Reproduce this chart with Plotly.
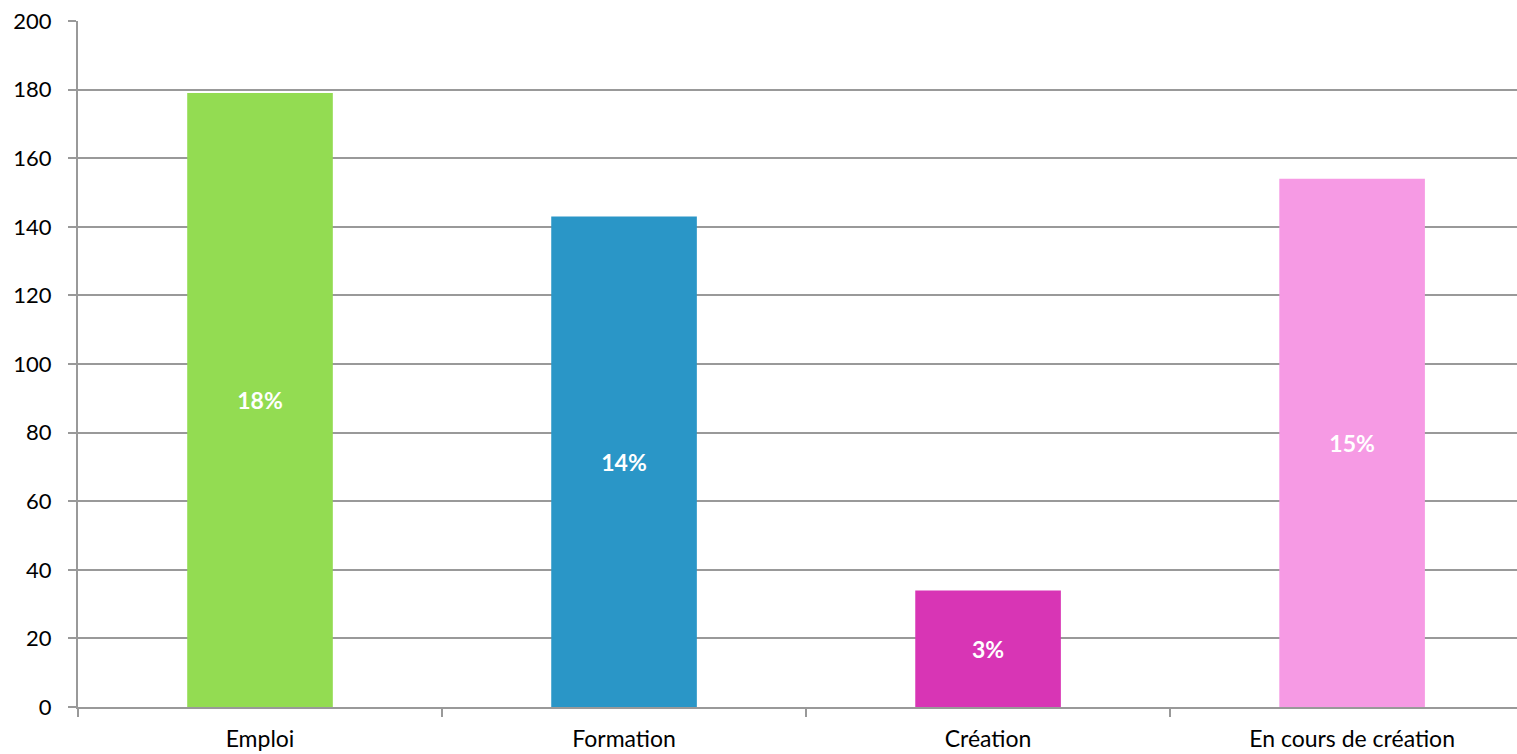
import plotly.graph_objects as go

categories = ["Emploi", "Formation", "Création", "En cours de création"]
values = [179, 143, 34, 154]
pct_labels = ["18%", "14%", "3%", "15%"]
colors = ["#93DC52", "#2A96C7", "#D835B5", "#F69AE4"]
y_ticks = [0, 20, 40, 60, 80, 100, 120, 140, 160, 180, 200]

fig = go.Figure(go.Bar(
    x=categories, y=values, text=pct_labels,
    marker=dict(color=colors, line=dict(width=0)),
    textposition="inside", insidetextanchor="middle",
    textfont=dict(family="Lato", size=23, color="white", weight="bold"),
    textangle=0,
))

fig.update_layout(
    width=1517, height=754,
    margin=dict(l=78, r=0, t=21, b=47),
    paper_bgcolor="white", plot_bgcolor="white",
    bargap=0.6, showlegend=False,
    font=dict(family="Lato", size=22, color="black"),
    uniformtext=dict(minsize=10),
)
fig.update_xaxes(
    range=[-0.5, 3.453], tickson="boundaries", ticks="outside", ticklen=8,
    tickcolor="#999999", tickwidth=1.5, showline=True, linecolor="#999999",
    linewidth=2, showgrid=False, tickfont=dict(size=23), zeroline=False,
    ticklabelstandoff=10, automargin=False,
)
fig.update_yaxes(
    range=[0, 200], tickvals=y_ticks, ticks="outside", ticklen=8,
    tickcolor="#999999", tickwidth=2, showline=True, linecolor="#999999",
    linewidth=2, showgrid=True, gridcolor="#999999", gridwidth=2,
    zeroline=False, tickfont=dict(size=22), ticklabelstandoff=12,
    automargin=False, ticklabeloverflow="allow",
)

fig.write_html(
    "out.html",
    config={"displayModeBar": False},
    post_script=(
        "document.documentElement.style.margin='0';"
        "document.documentElement.style.overflow='hidden';"
        "document.body.style.margin='0';"
        "document.body.style.overflow='hidden';"
    ),
)
